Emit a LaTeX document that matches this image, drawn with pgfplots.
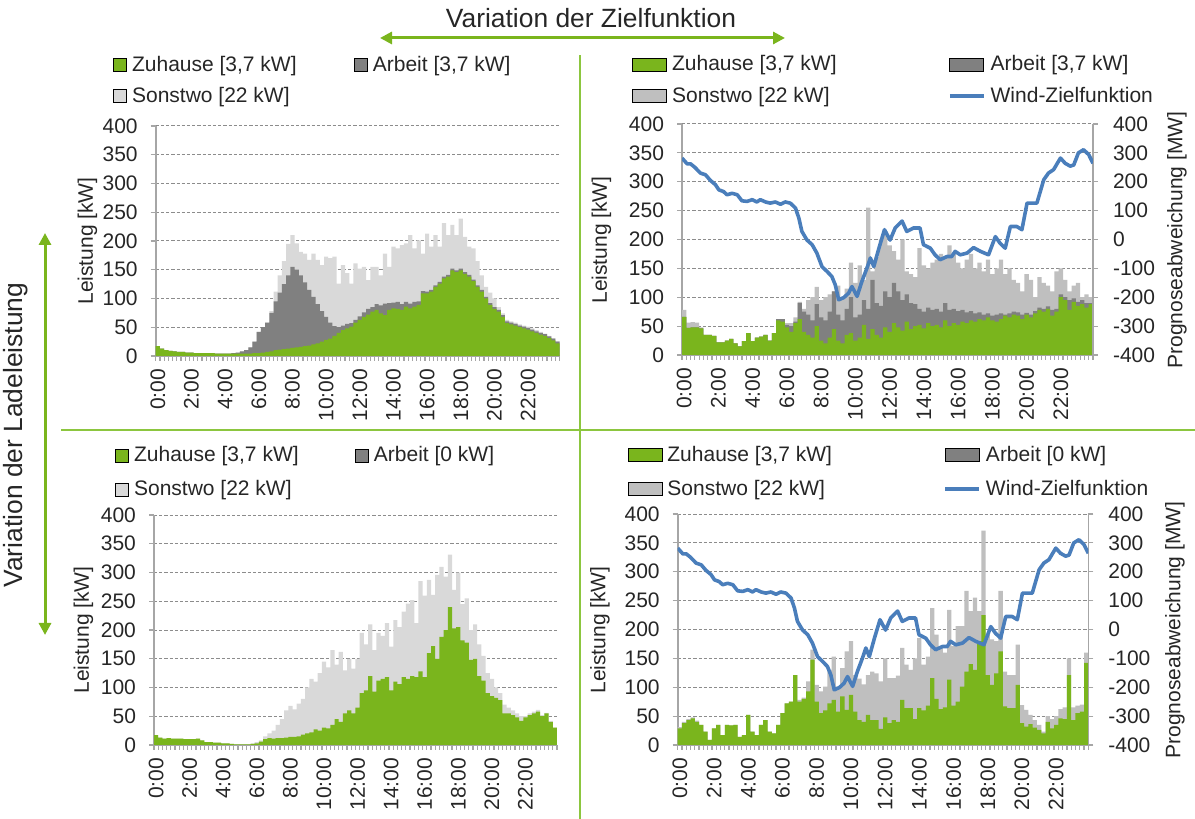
\documentclass[border=0pt]{standalone}
\usepackage{pgfplots}
\pgfplotsset{compat=1.18}
\usepackage{pgfplotstable}
\usepackage{fontspec}
\setmainfont{Liberation Sans}
\usetikzlibrary{arrows.meta}
\definecolor{cgreen}{HTML}{7AB51D}
\definecolor{cdark}{HTML}{808080}
\definecolor{clight}{HTML}{D9D9D9}
\definecolor{clighttwo}{HTML}{BFBFBF}
\definecolor{cblue}{HTML}{4A7EBB}
\definecolor{cgrid}{HTML}{8C8C8C}
\definecolor{caxis}{HTML}{A6A6A6}
\definecolor{ctext}{HTML}{262626}
\definecolor{cdiv}{HTML}{8CC63F}
\newcommand{\fs}{\fontsize{10.5}{12.6}\selectfont}

\pgfplotstableread{
x G D T
0.5 17 17 17
1.5 13 13 13
2.5 10 10 10
3.5 9 9 9
4.5 8 8 8
5.5 7 7 7
6.5 7 7 7
7.5 6 6 6
8.5 6 6 6
9.5 5 5 5
10.5 5 5 5
11.5 5 5 5
12.5 5 5 5
13.5 5 5 5
14.5 4 4 4
15.5 4 4 4
16.5 4 4 4
17.5 4 4 4
18.5 4 5 5
19.5 4 6 6
20.5 4 8 8
21.5 4 10 10
22.5 4 15 15
23.5 5 25 25
24.5 5 42 42
25.5 6 50 50
26.5 7 58 58
27.5 8 75 78
28.5 10 95 112
29.5 11 110 140
30.5 12 125 165
31.5 13 140 195
32.5 14 155 210
33.5 15 150 196
34.5 16 140 181
35.5 17 128 178
36.5 18 115 167
37.5 20 103 178
38.5 22 90 167
39.5 25 78 158
40.5 28 68 173
41.5 30 58 170
42.5 35 52 173
43.5 40 50 126
44.5 45 53 158
45.5 48 56 144
46.5 51 57 126
47.5 58 63 161
48.5 63 69 152
49.5 68 76 155
50.5 72 82 132
51.5 77 85 155
52.5 80 90 155
53.5 74 88 140
54.5 71 91 178
55.5 80 92 155
56.5 83 93 190
57.5 82 94 187
58.5 80 90 193
59.5 86 94 196
60.5 83 91 210
61.5 86 94 187
62.5 89 95 201
63.5 109 113 178
64.5 109 112 213
65.5 112 115 190
66.5 120 123 210
67.5 126 129 190
68.5 135 138 231
69.5 138 141 210
70.5 149 152 228
71.5 146 149 210
72.5 149 152 239
73.5 143 146 207
74.5 138 141 190
75.5 130 133 187
76.5 120 123 165
77.5 112 115 140
78.5 100 103 120
79.5 89 92 110
80.5 82 85 100
81.5 77 80 85
82.5 68 71 74
83.5 57 60 63
84.5 55 58 60
85.5 53 56 58
86.5 50 53 55
87.5 48 51 53
88.5 46 49 51
89.5 43 46 48
90.5 40 43 45
91.5 37 40 42
92.5 35 38 39
93.5 31 34 35
94.5 27 30 31
95.5 22 25 26
}\tabTL

\pgfplotstableread{
x G D T
0.5 66 66 78
1.5 47 47 56
2.5 48 48 57
3.5 48 48 56
4.5 46 46 48
5.5 35 35 35
6.5 35 35 35
7.5 33 33 33
8.5 22 22 22
9.5 22 22 22
10.5 25 25 25
11.5 28 28 28
12.5 20 20 20
13.5 15 15 15
14.5 24 24 24
15.5 38 38 38
16.5 24 24 24
17.5 30 30 30
18.5 32 32 32
19.5 35 35 35
20.5 25 25 25
21.5 38 38 38
22.5 60 62 62
23.5 58 62 62
24.5 48 52 55
25.5 40 50 55
26.5 55 58 65
27.5 62 90 92
28.5 40 75 80
29.5 35 70 95
30.5 30 60 100
31.5 50 88 118
32.5 25 65 95
33.5 20 60 100
34.5 30 75 105
35.5 45 110 110
36.5 25 70 120
37.5 20 60 100
38.5 35 80 115
39.5 38 100 160
40.5 25 65 125
41.5 30 70 155
42.5 52 95 130
43.5 28 80 255
44.5 45 130 145
45.5 35 90 170
46.5 30 85 200
47.5 48 110 215
48.5 40 100 190
49.5 55 125 180
50.5 48 110 165
51.5 42 95 200
52.5 58 105 145
53.5 45 90 140
54.5 50 88 135
55.5 52 80 185
56.5 46 75 155
57.5 55 82 150
58.5 50 78 160
59.5 52 80 165
60.5 48 75 175
61.5 60 90 170
62.5 50 78 190
63.5 55 80 175
64.5 52 76 160
65.5 58 78 150
66.5 55 74 165
67.5 60 76 175
68.5 58 72 150
69.5 62 74 160
70.5 60 70 145
71.5 65 72 165
72.5 60 68 140
73.5 58 70 150
74.5 62 72 165
75.5 68 70 140
76.5 65 72 150
77.5 70 75 130
78.5 68 74 125
79.5 62 70 110
80.5 70 73 140
81.5 65 70 130
82.5 72 76 100
83.5 78 82 135
84.5 75 80 125
85.5 80 84 120
86.5 68 78 110
87.5 75 80 145
88.5 100 105 150
89.5 95 100 130
90.5 78 95 110
91.5 92 98 120
92.5 85 92 125
93.5 88 95 100
94.5 82 90 105
95.5 88 90 100
}\tabTR

\pgfplotstableread{
x G T
0.5 17 17
1.5 13 13
2.5 11 11
3.5 12 12
4.5 11 11
5.5 11 11
6.5 11 11
7.5 10 10
8.5 10 10
9.5 10 10
10.5 11 11
11.5 8 8
12.5 5 5
13.5 5 5
14.5 4 4
15.5 4 4
16.5 3 3
17.5 3 3
18.5 2 2
19.5 1 1
20.5 1 1
21.5 1 1
22.5 1 1
23.5 2 3
24.5 3 5
25.5 6 8
26.5 10 15
27.5 12 20
28.5 11 25
29.5 12 35
30.5 12 45
31.5 13 60
32.5 14 68
33.5 14 62
34.5 15 72
35.5 18 80
36.5 20 100
37.5 22 115
38.5 27 110
39.5 25 125
40.5 30 145
41.5 29 135
42.5 35 165
43.5 45 140
44.5 40 162
45.5 55 130
46.5 60 150
47.5 55 133
48.5 65 150
49.5 90 195
50.5 95 175
51.5 120 210
52.5 93 165
53.5 112 195
54.5 115 190
55.5 118 212
56.5 95 171
57.5 110 217
58.5 106 205
59.5 118 232
60.5 115 246
61.5 120 252
62.5 118 212
63.5 128 285
64.5 118 260
65.5 160 287
66.5 172 261
67.5 150 296
68.5 188 310
69.5 200 293
70.5 240 331
71.5 203 270
72.5 205 300
73.5 182 245
74.5 178 255
75.5 148 200
76.5 150 210
77.5 120 175
78.5 112 155
79.5 90 125
80.5 85 115
81.5 82 100
82.5 78 90
83.5 55 70
84.5 55 65
85.5 52 60
86.5 48 55
87.5 42 50
88.5 48 50
89.5 52 55
90.5 55 58
91.5 58 61
92.5 50 52
93.5 55 56
94.5 40 42
95.5 30 30
}\tabBL

\pgfplotstableread{
x G T
0.5 29 31
1.5 38 40
2.5 43 45
3.5 46 48
4.5 40 42
5.5 35 35
6.5 23 23
7.5 9 9
8.5 29 29
9.5 35 35
10.5 17 17
11.5 35 35
12.5 34 34
13.5 35 35
14.5 14 14
15.5 17 17
16.5 52 52
17.5 23 23
18.5 17 17
19.5 35 35
20.5 43 43
21.5 23 23
22.5 20 20
23.5 35 35
24.5 55 55
25.5 72 72
26.5 75 75
27.5 121 121
28.5 75 78
29.5 80 82
30.5 93 110
31.5 148 165
32.5 75 104
33.5 55 93
34.5 60 101
35.5 72 130
36.5 78 153
37.5 58 101
38.5 84 133
39.5 61 162
40.5 87 180
41.5 58 121
42.5 43 115
43.5 40 105
44.5 52 121
45.5 43 127
46.5 43 124
47.5 28 110
48.5 48 150
49.5 38 116
50.5 43 116
51.5 40 120
52.5 78 168
53.5 64 139
54.5 64 130
55.5 45 150
56.5 64 185
57.5 60 139
58.5 68 153
59.5 116 237
60.5 80 191
61.5 62 171
62.5 65 160
63.5 113 234
64.5 68 171
65.5 75 206
66.5 101 206
67.5 127 267
68.5 140 232
69.5 130 255
70.5 180 232
71.5 225 371
72.5 121 191
73.5 104 183
74.5 124 180
75.5 162 267
76.5 67 127
77.5 64 121
78.5 64 121
79.5 104 174
80.5 38 69
81.5 32 61
82.5 36 52
83.5 30 43
84.5 26 35
85.5 20 23
86.5 40 50
87.5 29 45
88.5 35 50
89.5 46 62
90.5 45 65
91.5 121 150
92.5 43 65
93.5 55 68
94.5 58 70
95.5 142 160
}\tabBR

\pgfplotstableread{
x W
0 282
1.2 262
2 262
3 250
4.3 230
5.5 224
6.6 205
7.8 190
8.6 172
9.7 166
10.5 155
11.7 160
12.9 155
14 134
15.2 132
16.4 138
17.5 130
18.3 138
19.5 130
20.6 126
21.8 130
23 122
24.1 130
25.3 126
26.5 109
27.3 74
28 28
29.2 -2
30.4 -18
31.5 -47
32.7 -94
33.9 -111
35 -128
35.8 -157
36.6 -209
37.8 -201
38.9 -186
39.7 -163
40.9 -197
42 -146
43.2 -99
44 -64
44.8 -94
46 -30
47.3 34
48.6 -2
49.8 40
51.4 64
52.5 28
54.1 40
55.6 40
56.4 -18
58 -30
59.1 -53
60.3 -70
61.9 -59
63 -59
63.8 -41
65 -53
66.6 -47
68.1 -28
69.7 -41
71.6 -53
73.2 10
74.3 -13
75.5 -30
76.7 45
78.2 45
79.4 34
80.6 126
81.7 126
82.9 126
84.5 207
85.6 230
86.8 242
88.4 282
89.5 264
90.7 254
91.5 258
92.6 300
93.8 311
95 294
96 264
}\tabWind

\pgfplotsset{
  legsq/.style={legend image code/.code={\fill[##1] (0pt,-3.25pt) rectangle (6.5pt,3.25pt);}},
  legrect/.style={legend image code/.code={\fill[##1] (0pt,-3.25pt) rectangle (17pt,3.25pt);}},
  legline/.style={legend image code/.code={\draw[##1] (0pt,0pt) -- (17pt,0pt);}},
  bars/.style={ybar, bar width=1, bar shift=0pt, draw=none, fill=#1, forget plot},
  panel/.style={
    scale only axis,
    font=\fs,
    /pgf/number format/assume math mode=true,
    xmin=0, xmax=96, ymin=0, ymax=400,
    axis x line*=bottom, axis y line*=left,
    axis line style={caxis, line width=0.8pt, -},
    ytick={0,50,...,400},
    ymajorgrids,
    major grid style={cgrid, dash pattern=on 1.6pt off 1pt, line width=0.5pt},
    xtick={0,1,...,96}, xticklabels={},
    extra x ticks={0.5,8.5,16.5,24.5,32.5,40.5,48.5,56.5,64.5,72.5,80.5,88.5},
    extra x tick labels={0:00,2:00,4:00,6:00,8:00,10:00,12:00,14:00,16:00,18:00,20:00,22:00},
    extra x tick style={major tick length=0pt},
    xticklabel style={rotate=90, anchor=east, text=ctext},
    yticklabel style={text=ctext},
    xticklabel shift=3pt, yticklabel shift=3pt,
    tick align=outside, major tick length=2.5pt,
    tick style={caxis, line width=0.6pt},
    legend columns=2,
    legend cell align=left,
    legend style={draw=none, fill=none, inner sep=0pt, anchor=north west,
      font=\fs, text=ctext,
      nodes={inner sep=2.5pt}, row sep=1.5pt},
  },
  rpanel/.style={
    scale only axis,
    font=\fs,
    /pgf/number format/assume math mode=true,
    xmin=0, xmax=96, ymin=-400, ymax=400,
    axis x line=none, axis y line*=right,
    axis line style={caxis, line width=0.8pt, -},
    ytick={-400,-300,...,400},
    yticklabel style={text=ctext},
    yticklabel shift=4pt,
    tick align=outside, major tick length=2.5pt,
    tick style={caxis, line width=0.6pt},
  },
}

\begin{document}
\begin{tikzpicture}
\useasboundingbox (0,0) rectangle (597.5pt,409.5pt);

% dividers and arrows
\draw[cdiv, line width=1pt] (290pt,0pt) -- (290pt,382pt);
\draw[cdiv, line width=1pt] (30.5pt,194.5pt) -- (597.5pt,194.5pt);
\draw[cgreen, line width=1.5pt, {Triangle[width=6pt,length=6pt]}-{Triangle[width=6pt,length=6pt]}] (190pt,390.5pt) -- (392.5pt,390.5pt);
\draw[cgreen, line width=1.5pt, {Triangle[width=6pt,length=6pt]}-{Triangle[width=6pt,length=6pt]}] (22.5pt,293pt) -- (22.5pt,92pt);
\node[font=\fontsize{13.2}{15}\selectfont, text=ctext] at (295.5pt,400.5pt) {Variation der Zielfunktion};
\node[font=\fontsize{13.2}{15}\selectfont, text=ctext, rotate=90] at (8pt,192pt) {Variation der Ladeleistung};

% y labels
\node[font=\fs, text=ctext, rotate=90] at (43.75pt,289pt) {Leistung [kW]};
\node[font=\fs, text=ctext, rotate=90] at (300.75pt,289.5pt) {Leistung [kW]};
\node[font=\fs, text=ctext, rotate=90] at (588.5pt,289.5pt) {Prognoseabweichung [MW]};
\node[font=\fs, text=ctext, rotate=90] at (41.75pt,94.5pt) {Leistung [kW]};
\node[font=\fs, text=ctext, rotate=90] at (300pt,94.5pt) {Leistung [kW]};
\node[font=\fs, text=ctext, rotate=90] at (587.5pt,94.5pt) {Prognoseabweichung [MW]};

% ---------- top left
\begin{axis}[panel, at={(77.85pt,231.5pt)}, anchor=south west, width=202pt, height=115pt,
  legend style={at={(-0.106,1.328)}}]
\addlegendimage{legsq, fill=cgreen}
\addlegendentry{\makebox[108.5pt][l]{Zuhause [3,7 kW]}}
\addlegendimage{legsq, fill=cdark}
\addlegendentry{Arbeit [3,7 kW]}
\addlegendimage{legsq, fill=clight}
\addlegendentry{Sonstwo [22 kW]}
\addplot[bars=clight] table[x=x,y=T] {\tabTL};
\addplot[bars=cdark] table[x=x,y=D] {\tabTL};
\addplot[bars=cgreen] table[x=x,y=G] {\tabTL};
\end{axis}

% ---------- top right
\begin{axis}[panel, at={(341pt,232pt)}, anchor=south west, width=205.5pt, height=115.5pt,
  legend style={at={(-0.122,1.319)}}]
\addlegendimage{legrect, fill=cgreen}
\addlegendentry{\makebox[135.5pt][l]{Zuhause [3,7 kW]}}
\addlegendimage{legrect, fill=cdark}
\addlegendentry{Arbeit [3,7 kW]}
\addlegendimage{legrect, fill=clighttwo}
\addlegendentry{Sonstwo [22 kW]}
\addlegendimage{legline, cblue, line width=1.8pt}
\addlegendentry{Wind-Zielfunktion}
\addplot[bars=clighttwo] table[x=x,y=T] {\tabTR};
\addplot[bars=cdark] table[x=x,y=D] {\tabTR};
\addplot[bars=cgreen] table[x=x,y=G] {\tabTR};
\end{axis}
\begin{axis}[rpanel, at={(341pt,232pt)}, anchor=south west, width=205.5pt, height=115.5pt]
\addplot[cblue, line width=1.8pt, line join=round] table[x=x,y=W] {\tabWind};
\end{axis}

% ---------- bottom left
\begin{axis}[panel, at={(77pt,37pt)}, anchor=south west, width=201.5pt, height=115pt,
  legend style={at={(-0.097,1.322)}, row sep=3pt}]
\addlegendimage{legsq, fill=cgreen}
\addlegendentry{\makebox[108pt][l]{Zuhause [3,7 kW]}}
\addlegendimage{legsq, fill=cdark}
\addlegendentry{Arbeit [0 kW]}
\addlegendimage{legsq, fill=clight}
\addlegendentry{Sonstwo [22 kW]}
\addplot[bars=clight] table[x=x,y=T] {\tabBL};
\addplot[bars=cgreen] table[x=x,y=G] {\tabBL};
\end{axis}

% ---------- bottom right
\begin{axis}[panel, at={(338.85pt,37pt)}, anchor=south west, width=205.3pt, height=115.5pt,
  legend style={at={(-0.123,1.318)}, row sep=3pt}]
\addlegendimage{legrect, fill=cgreen}
\addlegendentry{\makebox[135.5pt][l]{Zuhause [3,7 kW]}}
\addlegendimage{legrect, fill=cdark}
\addlegendentry{Arbeit [0 kW]}
\addlegendimage{legrect, fill=clighttwo}
\addlegendentry{Sonstwo [22 kW]}
\addlegendimage{legline, cblue, line width=1.8pt}
\addlegendentry{Wind-Zielfunktion}
\addplot[bars=clighttwo] table[x=x,y=T] {\tabBR};
\addplot[bars=cgreen] table[x=x,y=G] {\tabBR};
\end{axis}
\begin{axis}[rpanel, at={(338.85pt,37pt)}, anchor=south west, width=205.3pt, height=115.5pt]
\addplot[cblue, line width=1.8pt, line join=round] table[x=x,y=W] {\tabWind};
\end{axis}
\end{tikzpicture}
\end{document}
